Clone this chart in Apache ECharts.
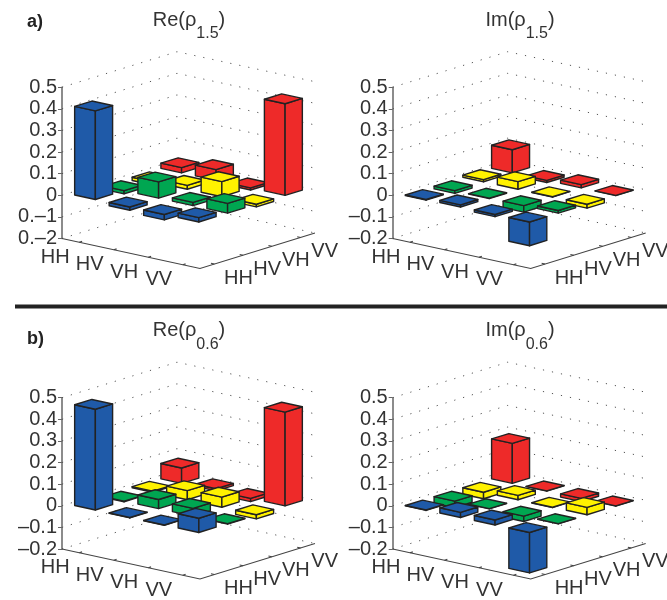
<!DOCTYPE html>
<html><head><meta charset="utf-8">
<style>html,body{margin:0;padding:0;background:#fff}#c{width:667px;height:600px}</style>
<script src="https://cdn.jsdelivr.net/npm/echarts@6/dist/echarts.min.js"></script>
</head><body><div id="c"></div>
<script>
// Categories and axis labels
const pol = ['HH', 'HV', 'VH', 'VV'];
const zTicks = [-0.2, -0.1, 0, 0.1, 0.2, 0.3, 0.4, 0.5];
const tickLabelsOdd = {'-0.2':'0.\u20132','-0.1':'0.\u20131','0':'0','0.1':'0.1','0.2':'0.2','0.3':'0.3','0.4':'0.4','0.5':'0.5'};
const tickLabels = {'-0.2':'\u20130.2','-0.1':'\u20130.1','0':'0','0.1':'0.1','0.2':'0.2','0.3':'0.3','0.4':'0.4','0.5':'0.5'};

// Bar heights: one list per colour row (blue, green, yellow, red), each over HH HV VH VV
const reA_blue   = [0.41, -0.015, -0.025, 0.02];
const reA_green  = [-0.015, 0.075, 0.015, 0.045];
const reA_yellow = [-0.015, 0.018, 0.07, -0.012];
const reA_red    = [0.024, 0.05, -0.01, 0.424];

const imA_blue   = [-0.003, 0.01, -0.01, -0.11];
const imA_green  = [-0.013, -0.002, -0.03, 0.012];
const imA_yellow = [0.01, 0.035, -0.001, -0.018];
const imA_red    = [0.107, -0.01, 0.015, -0.001];

const reB_blue   = [0.466, -0.002, -0.001, 0.066];
const reB_green  = [-0.003, 0.042, 0.036, -0.002];
const reB_yellow = [0.005, 0.042, 0.047, -0.019];
const reB_red    = [0.071, 0.01, -0.015, 0.434];

const imB_blue   = [-0.002, 0.024, 0.023, -0.187];
const imB_green  = [-0.03, -0.001, -0.025, -0.001];
const imB_yellow = [-0.03, 0.02, -0.001, 0.034];
const imB_red    = [0.185, -0.001, -0.015, -0.001];

const colours = ['#1f5aa8', '#00a651', '#fff200', '#ee2a29'];
const edge = '#222', ink = '#333';
const FONT = '"Liberation Sans", Arial, sans-serif';

const panels = [
  {name:'Re', sub:'1.5', left:62,    bottom:238.5, rows:[reA_blue,reA_green,reA_yellow,reA_red], labels:tickLabelsOdd, tx:184},
  {name:'Im', sub:'1.5', left:392.7, bottom:238.5, rows:[imA_blue,imA_green,imA_yellow,imA_red], labels:tickLabels, tx:515},
  {name:'Re', sub:'0.6', left:62,    bottom:549,   rows:[reB_blue,reB_green,reB_yellow,reB_red], labels:tickLabels, tx:184},
  {name:'Im', sub:'0.6', left:392.7, bottom:549,   rows:[imB_blue,imB_green,imB_yellow,imB_red], labels:tickLabels, tx:515},
];

const GW = 253, GH = 151.3, Z_PX = GH / 0.7;
const HALF = 0.3;
// Projection of floor position (i, j) and height z to the panel's axis units
const proj = (i, j, z) => [
  (i * 34.5 + j * 28.75) / GW,
  z - (i * 7.5 - j * 8.875) / Z_PX
];
const at = (api, i, j, z) => api.coord(proj(i, j, z));

const renderBar = (params, api) => {
  const i = api.value(0) + 0.5, j = api.value(1) + 0.5, v = api.value(2), col = colours[api.value(1)];
  const top = Math.max(v, 0), bot = Math.min(v, 0);
  const P = (a, b, z) => at(api, i + a * HALF, j + b * HALF, z);
  const style = {fill: col, stroke: edge, lineWidth: 1.4, lineJoin: 'round'};
  const poly = pts => ({type: 'polygon', shape: {points: pts}, style});
  return {type: 'group', children: [
    poly([P(-1,-1,top), P(1,-1,top), P(1,-1,bot), P(-1,-1,bot)]),
    poly([P(1,-1,top), P(1,1,top), P(1,1,bot), P(1,-1,bot)]),
    poly([P(-1,-1,top), P(-1,1,top), P(1,1,top), P(1,-1,top)])
  ]};
};

const renderWall = (params, api) => {
  const z = api.value(0);
  return {type: 'polyline',
    shape: {points: [at(api,0,0,z), at(api,0,4,z), at(api,4,4,z)]},
    style: {fill: null, stroke: '#555', lineWidth: 1, lineDash: [1.2, 8]}};
};

const renderFloor = (params, api) => {
  const zMin = zTicks[0], line = {stroke: '#444', lineWidth: 1.1};
  const kids = [{type: 'polyline', shape: {points: [at(api,0,0,zMin), at(api,4,0,zMin), at(api,4,4,zMin)]},
                 style: {fill: null, ...line}}];
  pol.forEach((lab, n) => {
    const a = at(api, n + 0.5, 0, zMin), b = at(api, 4, n + 0.5, zMin);
    kids.push({type: 'polyline', shape: {points: [a, at(api, n + 0.5, 0.1, zMin)]}, style: {fill: null, ...line}});
    kids.push({type: 'polyline', shape: {points: [b, at(api, 3.9, n + 0.5, zMin)]}, style: {fill: null, ...line}});
    const t = {fontFamily: FONT, fontSize: 20, fill: ink, align: 'center', verticalAlign: 'middle'};
    kids.push({type: 'text', x: a[0] - 24, y: a[1] + 15, style: {...t, text: lab}});
    kids.push({type: 'text', x: b[0] + 24, y: b[1] + 14, style: {...t, text: lab}});
  });
  return {type: 'group', children: kids};
};

const cells = rows => {
  const out = [];
  rows.forEach((r, j) => r.forEach((v, i) => out.push([i, j, v])));
  return out.sort((a, b) => (a[0] - a[1]) - (b[0] - b[1]));
};

const grid = [], xAxis = [], yAxis = [], series = [], title = [];
panels.forEach((p, k) => {
  grid.push({left: p.left, top: p.bottom - GH, width: GW, height: GH});
  xAxis.push({gridIndex: k, type: 'value', min: 0, max: 1, show: false});
  yAxis.push({gridIndex: k, type: 'value', min: zTicks[0], max: zTicks[zTicks.length - 1], interval: 0.1,
    axisLine: {show: true, onZero: false, lineStyle: {color: '#666', width: 1.5}},
    axisTick: {show: true, length: 4, lineStyle: {color: '#666', width: 1}},
    splitLine: {show: false},
    axisLabel: {margin: 5, fontSize: 20, fontFamily: FONT, color: ink,
      formatter: v => p.labels[String(Math.round(v * 10) / 10)]}});
  const common = {type: 'custom', xAxisIndex: k, yAxisIndex: k, silent: true, clip: false};
  series.push({...common, z: 1, data: zTicks.map(z => [z]), renderItem: renderWall});
  series.push({...common, z: 2, data: [[0]], renderItem: renderFloor});
  series.push({...common, z: 3, data: cells(p.rows), renderItem: renderBar});
  title.push({text: `{m|${p.name}(\u03c1}{s|${p.sub}}{m|)}`, left: p.tx, top: k > 1 ? 315.5 : 5,
    textAlign: 'center',
    textStyle: {rich: {
      m: {fontFamily: FONT, fontSize: 20, fontWeight: 'normal', color: ink, lineHeight: 22, verticalAlign: 'top'},
      s: {fontFamily: FONT, fontSize: 16, fontWeight: 'normal', color: ink, lineHeight: 48, verticalAlign: 'middle'}}}});
});
title.push({text: 'a)', left: 22, top: 8, textStyle: {fontFamily: FONT, fontSize: 18, fontWeight: 'bold', color: '#222'}});
title.push({text: 'b)', left: 22, top: 325, textStyle: {fontFamily: FONT, fontSize: 18, fontWeight: 'bold', color: '#222'}});

const chart = echarts.init(document.getElementById('c'), null, {renderer: 'canvas'});
chart.setOption({animation: false, backgroundColor: '#fff', title, grid, xAxis, yAxis, series,
  graphic: [{type: 'rect', shape: {x: 15, y: 304.5, width: 652, height: 4}, style: {fill: '#222'}}]});
</script></body></html>
